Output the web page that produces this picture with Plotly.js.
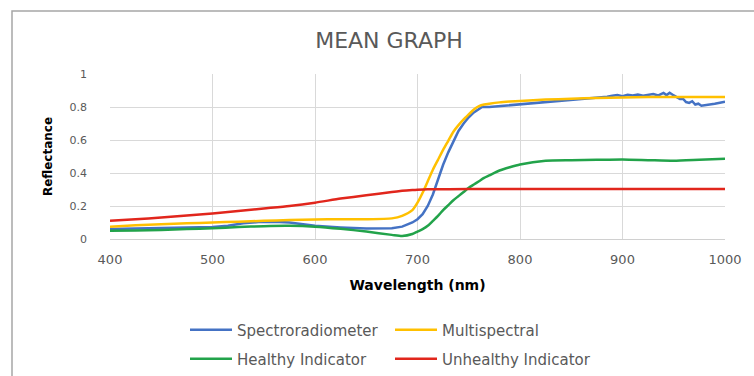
<!DOCTYPE html>
<html>
<head>
<meta charset="utf-8">
<script src="https://cdn.plot.ly/plotly-3.0.1.min.js"></script>
<style>html,body{margin:0;padding:0;background:#fff;}#chart{width:754px;height:376px;}</style>
</head>
<body>
<div id="chart"></div>
<script>
// Wavelength grids (nm)
const wlSmooth = [400,425,450,475,500,525,550,575,600,625,650,675,685,695,700,705,710,715,720,725,730,735,740,745,750,755,760,765,770,780,790,800,825,850,875,900,925,950,975,1000];
const wlSpectro = [400,425,450,475,500,515,530,545,560,575,590,600,625,650,675,685,695,700,705,710,715,720,725,730,735,740,745,750,755,760,763,770,780,790,800,810,820,830,840,850,860,870,880,885,890,895,900,905,910,915,920,925,930,935,940,943,946,950,953,956,959,962,965,968,971,974,977,980,985,990,995,1000];
const wlUnhealthy = [400,425,450,475,500,525,550,575,600,625,650,675,685,695,700,710,750,800,850,900,950,1000];

// Reflectance series
const spectroradiometer = [0.06,0.063,0.066,0.068,0.072,0.08,0.095,0.103,0.105,0.1,0.088,0.08,0.07,0.063,0.065,0.075,0.1,0.12,0.15,0.2,0.27,0.36,0.45,0.525,0.595,0.655,0.7,0.738,0.767,0.79,0.8,0.8,0.805,0.81,0.818,0.822,0.828,0.832,0.835,0.84,0.845,0.852,0.858,0.862,0.868,0.872,0.866,0.874,0.87,0.876,0.868,0.874,0.878,0.87,0.885,0.872,0.886,0.87,0.86,0.848,0.85,0.83,0.825,0.835,0.815,0.82,0.808,0.81,0.815,0.82,0.826,0.832];
const multispectral = [0.075,0.083,0.09,0.095,0.1,0.105,0.11,0.115,0.118,0.12,0.12,0.125,0.14,0.175,0.22,0.28,0.35,0.42,0.48,0.54,0.595,0.65,0.69,0.725,0.755,0.785,0.805,0.815,0.82,0.828,0.833,0.837,0.845,0.85,0.855,0.858,0.86,0.86,0.86,0.86];
const healthyIndicator = [0.05,0.052,0.055,0.06,0.065,0.072,0.078,0.08,0.075,0.062,0.045,0.025,0.018,0.03,0.045,0.06,0.08,0.11,0.14,0.175,0.205,0.235,0.26,0.285,0.31,0.33,0.35,0.37,0.385,0.415,0.435,0.452,0.475,0.478,0.48,0.482,0.478,0.474,0.48,0.486];
const unhealthyIndicator = [0.11,0.12,0.13,0.142,0.155,0.17,0.185,0.2,0.22,0.245,0.265,0.285,0.292,0.297,0.299,0.301,0.303,0.303,0.303,0.303,0.303,0.303];

// Labels
const seriesNames = ['Spectroradiometer','Multispectral','Healthy Indicator','Unhealthy Indicator'];
const seriesColors = ['#4472C4','#FFC000','#22A34A','#E1261C'];
const xTicks = [400,500,600,700,800,900,1000];
const yTicks = [0,0.2,0.4,0.6,0.8,1];

const legFont = {family:'DejaVu Sans', size:15, color:'#595959'};
function mkLeg(xPx, yPx){
  return {x:xPx/754, y:1-yPx/376, xref:'container', yref:'container', xanchor:'left', yanchor:'middle',
          bgcolor:'rgba(0,0,0,0)', borderwidth:0, font:legFont, orientation:'h', itemwidth:42};
}

const traces = [
  {x:wlSpectro, y:spectroradiometer, name:seriesNames[0], mode:'lines', line:{color:seriesColors[0], width:2.5}, legend:'legend'},
  {x:wlSmooth, y:multispectral, name:seriesNames[1], mode:'lines', line:{color:seriesColors[1], width:2.5, shape:'spline', smoothing:0.6}, legend:'legend2'},
  {x:wlSmooth, y:healthyIndicator, name:seriesNames[2], mode:'lines', line:{color:seriesColors[2], width:2.5, shape:'spline', smoothing:0.6}, legend:'legend3'},
  {x:wlUnhealthy, y:unhealthyIndicator, name:seriesNames[3], mode:'lines', line:{color:seriesColors[3], width:2.5, shape:'spline', smoothing:0.6}, legend:'legend4'}
];

const L = 110, R = 29, T = 74, B = 137;
const pw = 754 - L - R, ph = 376 - T - B;
const px = v => (v - L) / pw;
const py = v => (376 - B - v) / ph;

const layout = {
  width:754, height:376, autosize:false,
  margin:{l:L, r:R, t:T, b:B, pad:0, autoexpand:false},
  paper_bgcolor:'#ffffff', plot_bgcolor:'#ffffff',
  title:{text:'MEAN GRAPH', x:389/754, xanchor:'center', y:1-40/376, yanchor:'middle',
         font:{family:'DejaVu Sans', size:22, color:'#595959'}},
  xaxis:{range:[400,1000], tickmode:'array', tickvals:xTicks, showgrid:true, gridcolor:'#D9D9D9', gridwidth:1,
         zeroline:false, showline:true, linecolor:'#D0D0D0', linewidth:1, ticks:'', ticklabelstandoff:8, automargin:false,
         tickfont:{family:'DejaVu Sans', size:13, color:'#595959'},
         title:{text:'Wavelength (nm)', standoff:14, font:{family:'DejaVu Sans', size:14, color:'#000000', weight:'bold'}}},
  yaxis:{range:[0,1], tickmode:'array', tickvals:yTicks, showgrid:true, gridcolor:'#D9D9D9', gridwidth:1,
         zeroline:false, showline:false, ticks:'', ticklabelstandoff:22, automargin:false,
         tickfont:{family:'DejaVu Sans', size:11, color:'#595959'},
         title:{text:'Reflectance', standoff:14, font:{family:'DejaVu Sans', size:12, color:'#000000', weight:'bold'}}},
  showlegend:true,
  legend:mkLeg(185, 330),
  legend2:mkLeg(390, 330),
  legend3:mkLeg(185, 359),
  legend4:mkLeg(390, 359),
  shapes:[{type:'rect', xref:'paper', yref:'paper', x0:px(12), x1:1.2, y0:-1.2, y1:py(11),
           line:{color:'#A6A6A6', width:1.5}, fillcolor:'rgba(0,0,0,0)', layer:'below'}]
};

Plotly.newPlot('chart', traces, layout, {displayModeBar:false, staticPlot:true});
</script>
</body>
</html>
